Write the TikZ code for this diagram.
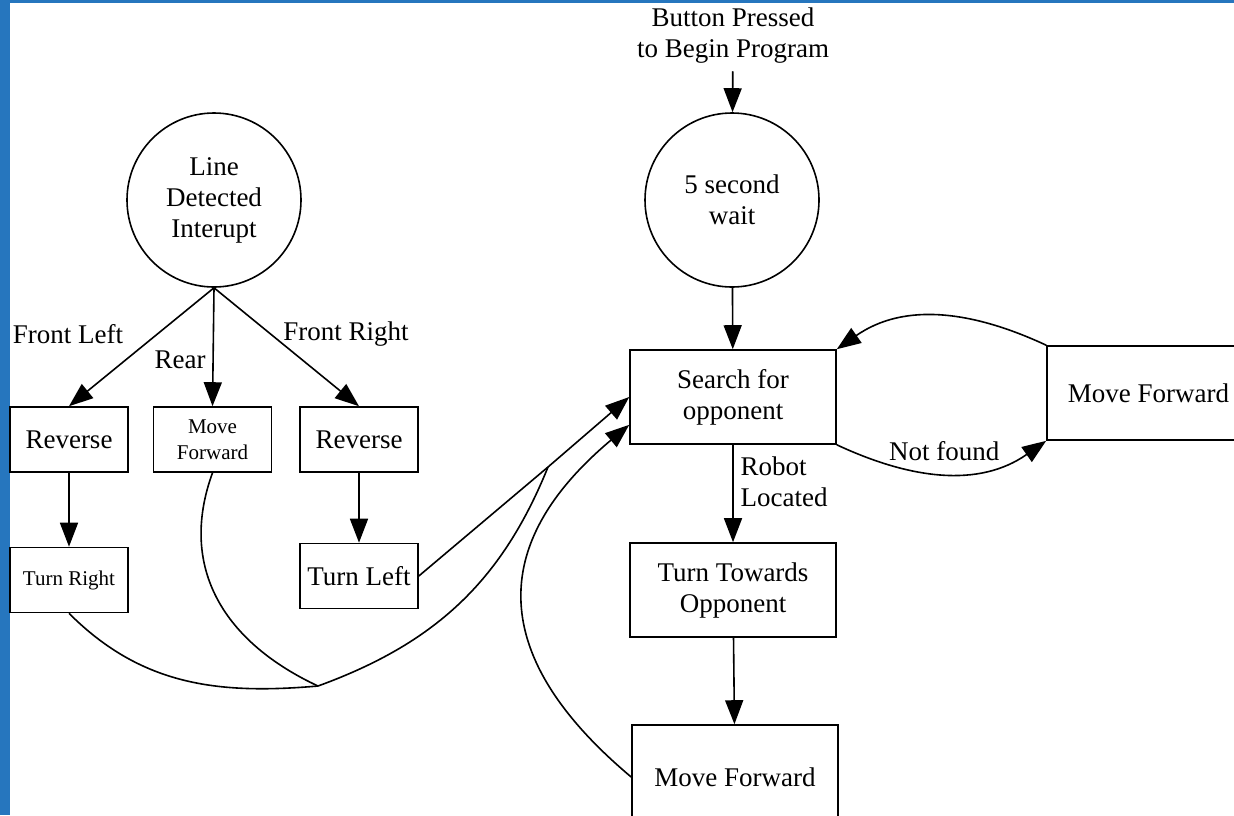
\documentclass[tikz,border=0pt]{standalone}
\usepackage{fontspec}
\setmainfont{Liberation Serif}
\usetikzlibrary{arrows.meta}
\usetikzlibrary{positioning}

\definecolor{frameblue}{RGB}{38,118,190}

\tikzset{
  every node/.style={font=\fontsize{13.5}{15.5}\selectfont, align=center},
  smalltext/.style={font=\fontsize{10.5}{13}\selectfont},
  state/.style={draw, circle, minimum size=87pt, inner sep=1pt},
  box/.style={draw, rectangle, minimum width=59pt, minimum height=32.5pt, inner sep=1pt},
  bigbox/.style={draw, rectangle, minimum width=103pt, minimum height=47pt, inner sep=1pt},
  arr/.style={-{Triangle[length=12pt,width=9pt]}}
}

\begin{document}
\begin{tikzpicture}[x=0.5pt,y=0.5pt,line width=0.8pt]
  \useasboundingbox (0,0) rectangle (1234,-815);
  \clip (0,0) rectangle (1234,-815);
  \fill[white] (0,0) rectangle (1234,-815);
  \fill[frameblue] (0,0) rectangle (10,-815);
  \fill[frameblue] (0,0) rectangle (1234,-3);

  % interrupt side
  \node[state] (ldi) at (214,-200) {Line\\Detected\\Interupt};
  \node[box] (revl) at (69,-439.5) {Reverse};
  \node[box,smalltext] (fwdl) at (212.5,-439.5) {Move\\Forward};
  \node[box] (revr) at (359,-439.5) {Reverse};
  \node[box,smalltext] (turnr) at (69,-580) {Turn Right};
  \node[box] (turnl) at (359,-576) {Turn Left};

  % main program
  \node (btn) at (733,-36) {Button Pressed\\to Begin Program};
  \node[state] (wait) at (732,-200) {5 second\\wait};
  \node[bigbox] (search) at (733,-397) {Search for\\opponent};
  \node[bigbox,minimum width=101.5pt] (fwdr) at (1148.5,-393) {Move Forward};
  \node[bigbox] (turnto) at (733,-590) {Turn Towards\\Opponent};
  \node[bigbox,minimum height=52pt] (fwdb) at (735,-777) {Move Forward};

  % labels
  \node (lblfl) at (68,-334) {Front Left};
  \node (lblrear) at (180,-360) {Rear};
  \node (lblfr) at (346,-334) {Front Right};
  \node[align=left] (lblrob) at (784,-482) {Robot\\Located};

  % arrows
  \draw[arr] (btn) -- (wait);
  \draw[arr] (ldi.south) -- (revl.north);
  \draw[arr] (ldi.south) -- (fwdl.north);
  \draw[arr] (ldi.south) -- (revr.north);
  \draw[arr] (revl) -- (turnr);
  \draw[arr] (revr) -- (turnl);
  \draw[arr] (wait) -- (search);
  \draw[arr] (search) -- (turnto);
  \draw[arr] (turnto) -- (fwdb);
  \draw[arr] (fwdr.north west) to[out=155,in=35] (search.north east);
  \draw[arr] (search.south east) to[out=-25,in=-145] node[midway,above=5pt,inner sep=1pt] (nf) {Not found} (fwdr.south west);

  % back to the search
  \coordinate (j1) at (318,-686);
  \coordinate (j2) at (548,-467);
  \draw (turnr.south) to[out=-45,in=185] (j1);
  \draw (fwdl.south) to[out=-110,in=155,looseness=1.1] (j1);
  \draw (j1) to[out=20,in=-112] (j2);
  \draw (turnl.east) -- (j2);
  \draw[arr] (j2) -- (search.west);
  \draw[arr] (fwdb.west) to[out=140,in=-140,looseness=1.35] (search.195);
\end{tikzpicture}
\end{document}
